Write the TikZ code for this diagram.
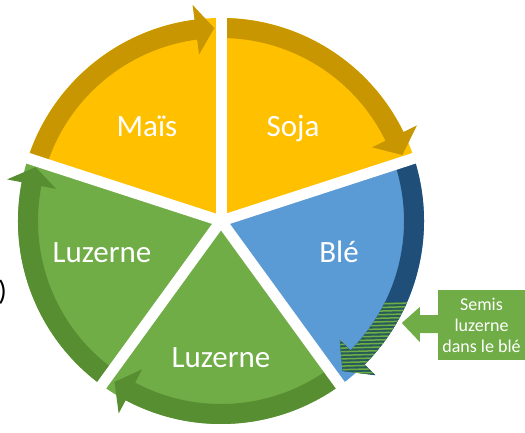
\documentclass[tikz,border=0pt]{standalone}
\usepackage{fontspec}
\setmainfont{Carlito}
\usetikzlibrary{calc}
\definecolor{gold}{RGB}{255,192,0}
\definecolor{goldband}{RGB}{200,150,0}
\definecolor{grn}{RGB}{112,173,71}
\definecolor{grnband}{RGB}{88,142,50}
\definecolor{blu}{RGB}{91,155,213}
\definecolor{bluband}{RGB}{31,78,121}
\definecolor{hatchdark}{RGB}{38,92,88}
\newcommand{\sectorshape}[2]{(c) -- ($(c)+(#1:203pt)$) arc[start angle=#1, end angle=#2, radius=203pt] -- cycle}
\newcommand{\arrowshape}[3]{($(c)+(#1:203pt)$) arc[start angle=#1, end angle=#2, radius=203pt] -- ($(c)+(#2:218pt)$) -- ($(c)+(#3:193pt)$) -- ($(c)+(#2:168pt)$) -- ($(c)+(#2:183pt)$) arc[start angle=#2, end angle=#1, radius=183pt] -- cycle}
\tikzset{
  lbl/.style={text=white, anchor=base, inner sep=0pt, font=\fontsize{31}{36}\selectfont},
  gapline/.style={draw=white, line width=11pt},
}
\begin{document}
\begin{tikzpicture}[x=1pt,y=1pt]
\useasboundingbox (0,0) rectangle (525,432);
\coordinate (c) at (221,211);
% sectors
\fill[gold] \sectorshape{90}{162};
\fill[gold] \sectorshape{18}{90};
\fill[blu] \sectorshape{-54}{18};
\fill[grn] \sectorshape{234}{306};
\fill[grn] \sectorshape{162}{234};
% arrow bands
\fill[goldband] \arrowshape{162}{97.5}{92};
\fill[goldband] \arrowshape{90}{26}{20};
\fill[bluband] \arrowshape{18}{-45}{-51};
\fill[grnband] \arrowshape{306}{242}{236.5};
\fill[grnband] \arrowshape{234}{169}{163.8};
% hatched end of the wheat arrow
\begin{scope}
  \clip (0,0) rectangle (525,130);
  \clip \arrowshape{18}{-45}{-51};
  \fill[hatchdark] (300,0) rectangle (450,140);
  \foreach \yy in {0,3.6,...,140} {
    \draw[grn, line width=1.5pt] (300,\yy) -- (450,\yy+4);
  }
\end{scope}
% gaps
\foreach \a in {90,18,-54,234,162} {
  \draw[gapline] (c) -- ($(c)+(\a:222pt)$);
}
% labels
\node[lbl] (mais) at (147,295) {Maïs};
\node[lbl] (soja) at (293,295) {Soja};
\node[lbl] (ble) at (339,170) {Blé};
\node[lbl] (luzA) at (102,170) {Luzerne};
\node[lbl] (luzB) at (221,65) {Luzerne};
% side note box with arrow
\node[fill=grn, text=white, minimum width=87pt, minimum height=70pt, inner sep=0pt,
      align=center, font=\fontsize{18}{21}\selectfont] (box) at (481.5,107)
      {Semis\\luzerne\\dans le blé};
\fill[grn] ($(box.west)+(0,10)$) -- ($(box.west)+(-18,10)$) -- ($(box.west)+(-18,18)$)
  -- ($(box.west)+(-36,2)$) -- ($(box.west)+(-18,-17)$) -- ($(box.west)+(-18,-8)$)
  -- ($(box.west)+(0,-8)$) -- cycle;
% cut-off parenthesis at the left edge
\node[anchor=east, inner sep=0pt, font=\fontsize{28}{32}\selectfont] (paren) at (7,140) {)};
\end{tikzpicture}
\end{document}
